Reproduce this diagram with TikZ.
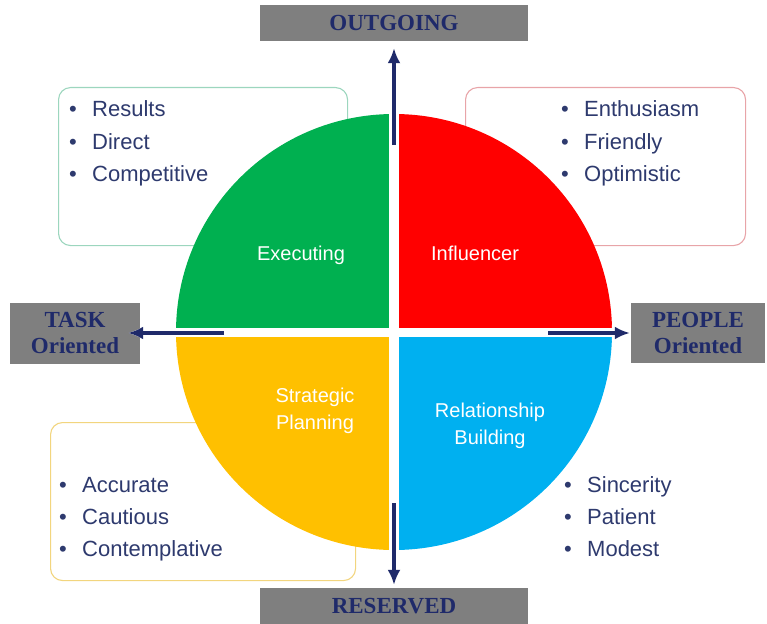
\documentclass[tikz,border=0pt]{standalone}
\usepackage{fontspec}
\setmainfont{Liberation Sans}
\newfontfamily\headfont{Liberation Serif}
\usetikzlibrary{arrows.meta}

\definecolor{qgreen}{HTML}{00B050}
\definecolor{qred}{HTML}{FF0000}
\definecolor{qyellow}{HTML}{FFC000}
\definecolor{qblue}{HTML}{00B0F0}
\definecolor{navy}{HTML}{1F2A6A}
\definecolor{listtext}{HTML}{2E3A6E}
\definecolor{headgray}{HTML}{7F7F7F}
\definecolor{edgegreen}{HTML}{9CD6BE}
\definecolor{edgered}{HTML}{E8A4A8}
\definecolor{edgeyellow}{HTML}{F2D57E}

\begin{document}
\begin{tikzpicture}[x=1pt,y=-1pt,
  headbox/.style={fill=headgray, text=navy, inner sep=0pt, align=center,
    font=\headfont\bfseries\fontsize{23}{26}\selectfont},
  traitbox/.style={draw, line width=1.1pt, rounded corners=12pt, fill=white,
    anchor=north west, inner sep=0pt},
  item/.style={anchor=base west, inner sep=0pt, text=listtext,
    font=\fontsize{22}{26}\selectfont},
  qlabel/.style={text=white, align=center, inner sep=0pt,
    font=\fontsize{20}{27}\selectfont},
  axisarrow/.style={navy, line width=3.4pt, -{Latex[length=15pt,width=13pt]},
    preaction={draw=white, line width=6.5pt, -{Latex[length=18pt,width=17pt]}}}
]
\useasboundingbox (0,0) rectangle (767,623);

% trait boxes behind the disc
\node[traitbox, draw=edgegreen, minimum width=289pt, minimum height=158pt] (tlbox) at (58,87) {};
\node[traitbox, draw=edgered, minimum width=280pt, minimum height=158pt] (trbox) at (465,87) {};
\node[traitbox, draw=edgeyellow, minimum width=305pt, minimum height=158pt] (blbox) at (50,422) {};

% trait lists
\newcommand{\bul}[1]{\makebox[23pt][l]{\textbullet}#1}
\foreach \t [count=\i] in {Results,Direct,Competitive}
  \node[item] (tl\i) at (69,85+32*\i) {\bul{\t}};
\foreach \t [count=\i] in {Enthusiasm,Friendly,Optimistic}
  \node[item] (tr\i) at (561,85+32*\i) {\bul{\t}};
\foreach \t [count=\i] in {Accurate,Cautious,Contemplative}
  \node[item] (bl\i) at (59,460+32*\i) {\bul{\t}};
\foreach \t [count=\i] in {Sincerity,Patient,Modest}
  \node[item] (br\i) at (564,460+32*\i) {\bul{\t}};

% four-quadrant disc
\begin{scope}
  \clip (394,332) circle [radius=218pt];
  \fill[qgreen] (170,100) rectangle (388.5,328);
  \fill[qred] (399,100) rectangle (620,328);
  \fill[qyellow] (170,337) rectangle (388.5,560);
  \fill[qblue] (399,337) rectangle (620,560);
\end{scope}

\node[qlabel] (exec) at (301,255) {Executing};
\node[qlabel] (infl) at (475,253) {Influencer};
\node[qlabel] (strat) at (315,411) {Strategic\\Planning};
\node[qlabel] (rel) at (490,426) {Relationship\\Building};

% axis headings
\node[headbox, minimum width=268pt, minimum height=36pt] (outgoing) at (394,23) {OUTGOING};
\node[headbox, minimum width=268pt, minimum height=36pt] (reserved) at (394,606) {RESERVED};
\node[headbox, minimum width=130pt, minimum height=61pt] (task) at (75,333) {TASK\\Oriented};
\node[headbox, minimum width=134pt, minimum height=60pt] (people) at (698,333) {PEOPLE\\Oriented};

% axis arrows
\coordinate (upstart) at (394,145);
\coordinate (downstart) at (394,503);
\coordinate (leftstart) at (224,333);
\coordinate (rightstart) at (548,333);
\draw[axisarrow, shorten >=7pt] (upstart) -- (outgoing.south);
\draw[axisarrow, shorten >=3pt] (downstart) -- (reserved.north);
\draw[axisarrow, shorten >=-12pt] (leftstart) -- (task.east);
\draw[axisarrow, shorten >=1pt] (rightstart) -- (people.west);
\end{tikzpicture}
\end{document}
